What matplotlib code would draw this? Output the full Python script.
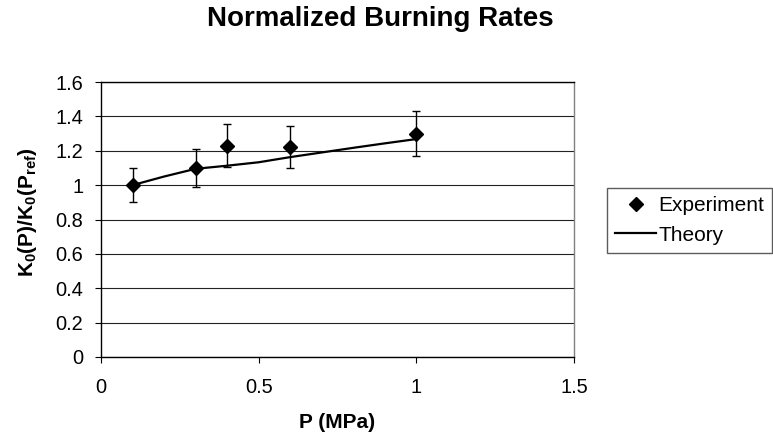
"""Normalized burning rate K0(P)/K0(Pref) vs pressure: measured points with
error bars and the theoretical curve."""
import numpy as np
import matplotlib; matplotlib.use("Agg")
import matplotlib.pyplot as plt

plt.rcParams["font.family"] = "Liberation Sans"
plt.rcParams["mathtext.fontset"] = "custom"
plt.rcParams["mathtext.rm"] = "Liberation Sans"
plt.rcParams["mathtext.bf"] = "Liberation Sans:bold"

# experiment
exp_p = [0.1, 0.3, 0.4, 0.6, 1.0]
exp_k = [1.0, 1.1, 1.23, 1.22, 1.30]
exp_err = [0.10, 0.11, 0.123, 0.122, 0.13]

# theory
th_p = [0.1, 0.2, 0.3, 0.4, 0.5, 0.6, 0.7, 0.8, 0.9, 1.0]
th_k = [1.0, 1.05, 1.095, 1.113, 1.133, 1.163, 1.19, 1.217, 1.243, 1.268]

xticks = [0, 0.5, 1, 1.5]
yticks = [0, 0.2, 0.4, 0.6, 0.8, 1, 1.2, 1.4, 1.6]

W, H = 773, 441
fig = plt.figure(figsize=(W / 100, H / 100), dpi=100)
ax = fig.add_axes([101 / W, 1 - 357 / H, 473 / W, 275 / H])

ax.set_xlim(0, 1.5)
ax.set_ylim(0, 1.6)
ax.set_xticks(xticks)
ax.set_xticklabels([f"{t:g}" for t in xticks])
ax.set_yticks(yticks)
ax.set_yticklabels([f"{t:g}" for t in yticks])
ax.tick_params(axis="both", direction="out", length=4.3, width=0.8,
               labelsize=14.4, colors="black")
ax.tick_params(axis="x", pad=11)
ax.tick_params(axis="y", pad=8.5)

ax.grid(axis="y", color="#222222", lw=0.8, zorder=0)
ax.set_axisbelow(True)
for sp in ["left", "bottom", "top"]:
    ax.spines[sp].set_color("black")
    ax.spines[sp].set_linewidth(1.0)
ax.spines["right"].set_color("#808080")
ax.spines["right"].set_linewidth(1.0)

ax.plot(th_p, th_k, color="black", lw=1.6, zorder=3, label="Theory")
ax.errorbar(exp_p, exp_k, yerr=exp_err, fmt="none", ecolor="black",
            elinewidth=1.0, capsize=3, capthick=1.0, zorder=4)
ax.plot(exp_p, exp_k, "D", color="black", ms=7.4, zorder=5,
        label="Experiment")

fig.text(380 / W, 1 - 19 / H, "Normalized Burning Rates", ha="center",
         va="center", fontsize=20, fontweight="bold")
ax.set_xlabel("P (MPa)", fontsize=15, fontweight="bold", labelpad=11)
fig.text(28 / W, 1 - 212 / H, r"$\mathbf{K_0(P)/K_0(P_{ref})}$",
         rotation=90, ha="center", va="center", fontsize=15)

h, l = ax.get_legend_handles_labels()
leg = fig.legend(h[::-1], l[::-1], loc="upper left",
                 bbox_to_anchor=(607 / W, 1 - 188 / H), fontsize=15,
                 frameon=True, fancybox=False, borderpad=0.4,
                 handlelength=1.95, handletextpad=0.1, labelspacing=0.5,
                 borderaxespad=0, numpoints=1)
leg.get_frame().set_edgecolor("#333333")
leg.get_frame().set_linewidth(1.0)

fig.savefig("out.png", dpi=100, facecolor="white")
